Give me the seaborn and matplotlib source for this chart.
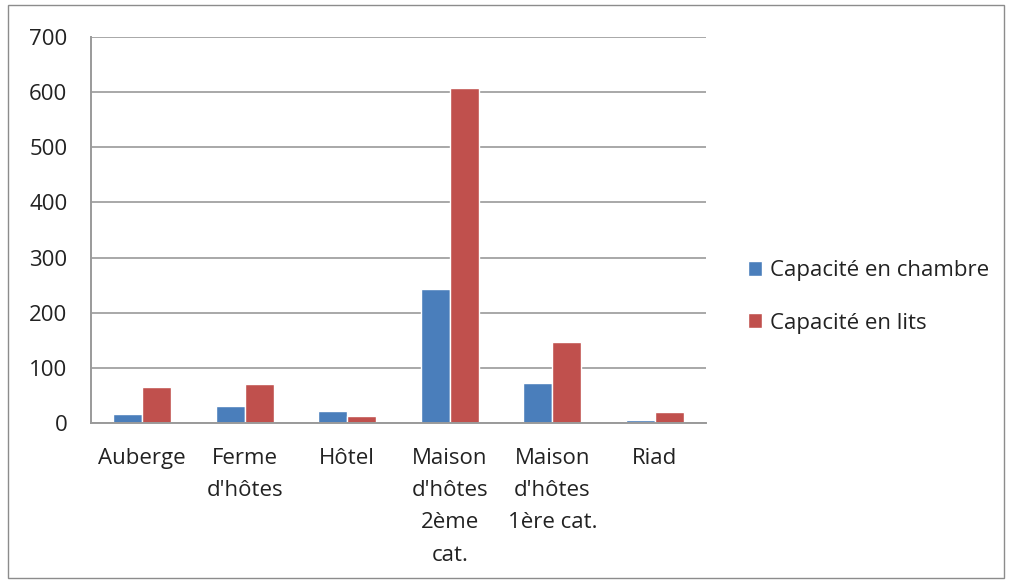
import pandas as pd
import matplotlib.pyplot as plt
import seaborn as sns
from matplotlib.patches import Rectangle, Patch

# Data
categories = ["Auberge", "Ferme\nd'hôtes", "Hôtel", "Maison\nd'hôtes\n2ème\ncat.",
              "Maison\nd'hôtes\n1ère cat.", "Riad"]
chambres = [17, 30, 22, 243, 73, 6]
lits = [65, 71, 13, 607, 147, 20]
series = ["Capacité en chambre", "Capacité en lits"]

df = pd.DataFrame({
    "cat": categories * 2,
    "val": chambres + lits,
    "serie": [series[0]] * len(categories) + [series[1]] * len(categories),
})

sns.set_style("white")
plt.rcParams["font.family"] = ["Open Sans", "DejaVu Sans"]

fig = plt.figure(figsize=(10.09, 5.82), dpi=100)
ax = fig.add_axes([91 / 1009, 1 - 423 / 582, 615 / 1009, 386 / 582])

colors = ["#4A7EBB", "#C0504D"]
sns.barplot(data=df, x="cat", y="val", hue="serie", palette=colors,
            width=0.565, ax=ax, legend=False, saturation=1)

ax.set_xlim(-0.5, 5.5)
ax.set_ylim(0, 700)
ax.set_yticks(range(0, 701, 100))
ax.set_xlabel("")
ax.set_ylabel("")

ax.yaxis.grid(True, color="#9A9A9A", linewidth=1.2)
ax.set_axisbelow(True)
for s in ["top", "right"]:
    ax.spines[s].set_visible(False)
for s in ["left", "bottom"]:
    ax.spines[s].set_color("#9A9A9A")
    ax.spines[s].set_linewidth(1.4)

# category labels without ticks, tick marks between categories
ax.set_xticks(range(len(categories)))
ax.set_xticklabels(categories, fontsize=16, linespacing=1.7, va="top", color="#222222")
ax.tick_params(axis="x", length=0, pad=18)
ax.set_xticks([i - 0.5 for i in range(len(categories) + 1)], minor=True)
ax.tick_params(axis="x", which="minor", length=6, color="#9A9A9A", width=1.4, direction="out")
ax.tick_params(axis="y", length=6, color="#9A9A9A", width=1.4, direction="out",
               labelsize=16, pad=11, labelcolor="#222222")

handles = [Patch(facecolor=c) for c in colors]
fig.legend(handles, series, loc="center left", bbox_to_anchor=(728 / 1009, 1 - 297 / 582),
           frameon=False, fontsize=16, handlelength=0.65, handleheight=0.65,
           handletextpad=0.35, labelspacing=1.4, labelcolor="#222222")

fig.patches.append(Rectangle((8 / 1009, 4 / 582), 996 / 1009, 573 / 582,
                             transform=fig.transFigure, fill=False,
                             edgecolor="#8C8C8C", linewidth=1))

fig.savefig("out.png", dpi=100)
